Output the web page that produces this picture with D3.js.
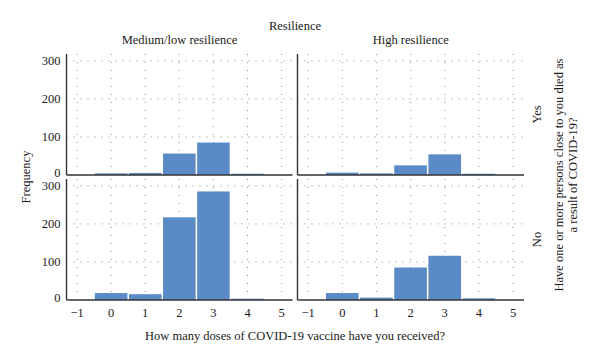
<!DOCTYPE html>
<html>
<head>
<meta charset="utf-8">
<script src="https://cdn.jsdelivr.net/npm/d3@7"></script>
<style>
  body { margin: 0; background: #fff; }
  svg text { font-family: "Liberation Serif", "DejaVu Serif", serif; fill: #1a1a1a; }
</style>
</head>
<body>
<svg id="chart" width="600" height="364"></svg>
<script>
const doseTicks = [-1, 0, 1, 2, 3, 4, 5];
const doses = [0, 1, 2, 3, 4];
const freqTicks = [0, 100, 200, 300];

const columns = ['Medium/low resilience', 'High resilience'];
const rows = ['Yes', 'No'];

// frequency per dose, one array per panel
const medLowYes = [3, 4, 55, 84, 2];
const highYes = [5, 3, 24, 53, 2];
const medLowNo = [17, 14, 216, 284, 2];
const highNo = [17, 5, 84, 115, 3];

const panelData = [
    [medLowYes, highYes],
    [medLowNo, highNo]
];

const svg = d3.select('#chart');

const colX = [[66.5, 292.5], [297.5, 524]];
const rowY = [[54, 175], [179, 300]];
const barColor = '#5b8bc7';
const gridColor = '#8a8a8a';
const axisColor = '#333';
const barGap = 1.5;

const xScales = colX.map(r => d3.scaleLinear().domain([-1.31, 5.32]).range(r));
const yScales = rowY.map(r => d3.scaleLinear().domain([0, 318]).range([r[1], r[0]]));

rows.forEach((rowName, ri) => {
    columns.forEach((colName, ci) => {
        const x = xScales[ci],
            y = yScales[ri];
        const g = svg.append('g');

        // dotted grid
        g.selectAll('line.vgrid')
            .data(doseTicks)
            .join('line')
            .attr('class', 'vgrid')
            .attr('x1', d => x(d))
            .attr('x2', d => x(d))
            .attr('y1', y.range()[1])
            .attr('y2', y.range()[0])
            .attr('stroke', gridColor)
            .attr('stroke-width', 1)
            .attr('stroke-dasharray', '1,7');

        g.selectAll('line.hgrid')
            .data(freqTicks.slice(1))
            .join('line')
            .attr('class', 'hgrid')
            .attr('x1', x.range()[0])
            .attr('x2', x.range()[1])
            .attr('y1', d => y(d))
            .attr('y2', d => y(d))
            .attr('stroke', gridColor)
            .attr('stroke-width', 1)
            .attr('stroke-dasharray', '1,6');

        // bars
        g.selectAll('rect')
            .data(doses.map((d, i) => ({ dose: d, value: panelData[ri][ci][i] })))
            .join('rect')
            .attr('x', d => x(d.dose - 0.5) + barGap / 2)
            .attr('width', d => x(d.dose + 0.5) - x(d.dose - 0.5) - barGap)
            .attr('y', d => y(d.value) - 0.5)
            .attr('height', d => y(0) - y(d.value) + 0.5)
            .attr('fill', barColor);

        // left and bottom axis lines
        g.append('line')
            .attr('x1', x.range()[0]).attr('x2', x.range()[0])
            .attr('y1', y.range()[1]).attr('y2', y.range()[0])
            .attr('stroke', axisColor).attr('stroke-width', 1.4);
        g.append('line')
            .attr('x1', x.range()[0]).attr('x2', x.range()[1])
            .attr('y1', y(0)).attr('y2', y(0))
            .attr('stroke', axisColor).attr('stroke-width', 1.4);

        // y tick labels on left column
        if (ci === 0) {
            g.selectAll('text.ytick')
                .data(freqTicks)
                .join('text')
                .attr('class', 'ytick')
                .attr('x', x.range()[0] - 6)
                .attr('y', d => y(d) - (d === 0 ? 2 : 0))
                .attr('dy', '0.35em')
                .attr('text-anchor', 'end')
                .attr('font-size', 12.5)
                .text(d => d);
        }

        // x tick labels on bottom row
        if (ri === rows.length - 1) {
            g.selectAll('text.xtick')
                .data(doseTicks)
                .join('text')
                .attr('class', 'xtick')
                .attr('x', d => x(d))
                .attr('y', y(0) + 13)
                .attr('dy', '0.35em')
                .attr('text-anchor', 'middle')
                .attr('font-size', 12.5)
                .text(d => d3.format('')(d).replace('-', '\u2212'));
        }

        // column headers
        if (ri === 0) {
            svg.append('text')
                .attr('x', (x.range()[0] + x.range()[1]) / 2)
                .attr('y', 40)
                .attr('dy', '0.35em')
                .attr('text-anchor', 'middle')
                .attr('font-size', 12.5)
                .text(colName);
        }

        // row labels
        if (ci === columns.length - 1) {
            const cy = (y.range()[0] + y.range()[1]) / 2;
            svg.append('text')
                .attr('transform', `translate(537,${cy}) rotate(-90)`)
                .attr('dy', '0.35em')
                .attr('text-anchor', 'middle')
                .attr('font-size', 12.5)
                .text(rowName);
        }
    });
});

// titles
svg.append('text')
    .attr('x', 295).attr('y', 26).attr('dy', '0.35em')
    .attr('text-anchor', 'middle').attr('font-size', 12.5)
    .text('Resilience');

svg.append('text')
    .attr('x', 295).attr('y', 336).attr('dy', '0.35em')
    .attr('text-anchor', 'middle').attr('font-size', 12.5)
    .text('How many doses of COVID-19 vaccine have you received?');

svg.append('text')
    .attr('transform', 'translate(26,177) rotate(-90)')
    .attr('dy', '0.35em')
    .attr('text-anchor', 'middle').attr('font-size', 12.5)
    .text('Frequency');

const rightTitle = svg.append('text')
    .attr('transform', 'translate(566,175) rotate(-90)')
    .attr('text-anchor', 'middle').attr('font-size', 12.5);
rightTitle.append('tspan').attr('x', 0).attr('dy', '-0.25em')
    .text('Have one or more persons close to you died as');
rightTitle.append('tspan').attr('x', 0).attr('dy', '1.15em')
    .text('a result of COVID-19?');
</script>
</body>
</html>
